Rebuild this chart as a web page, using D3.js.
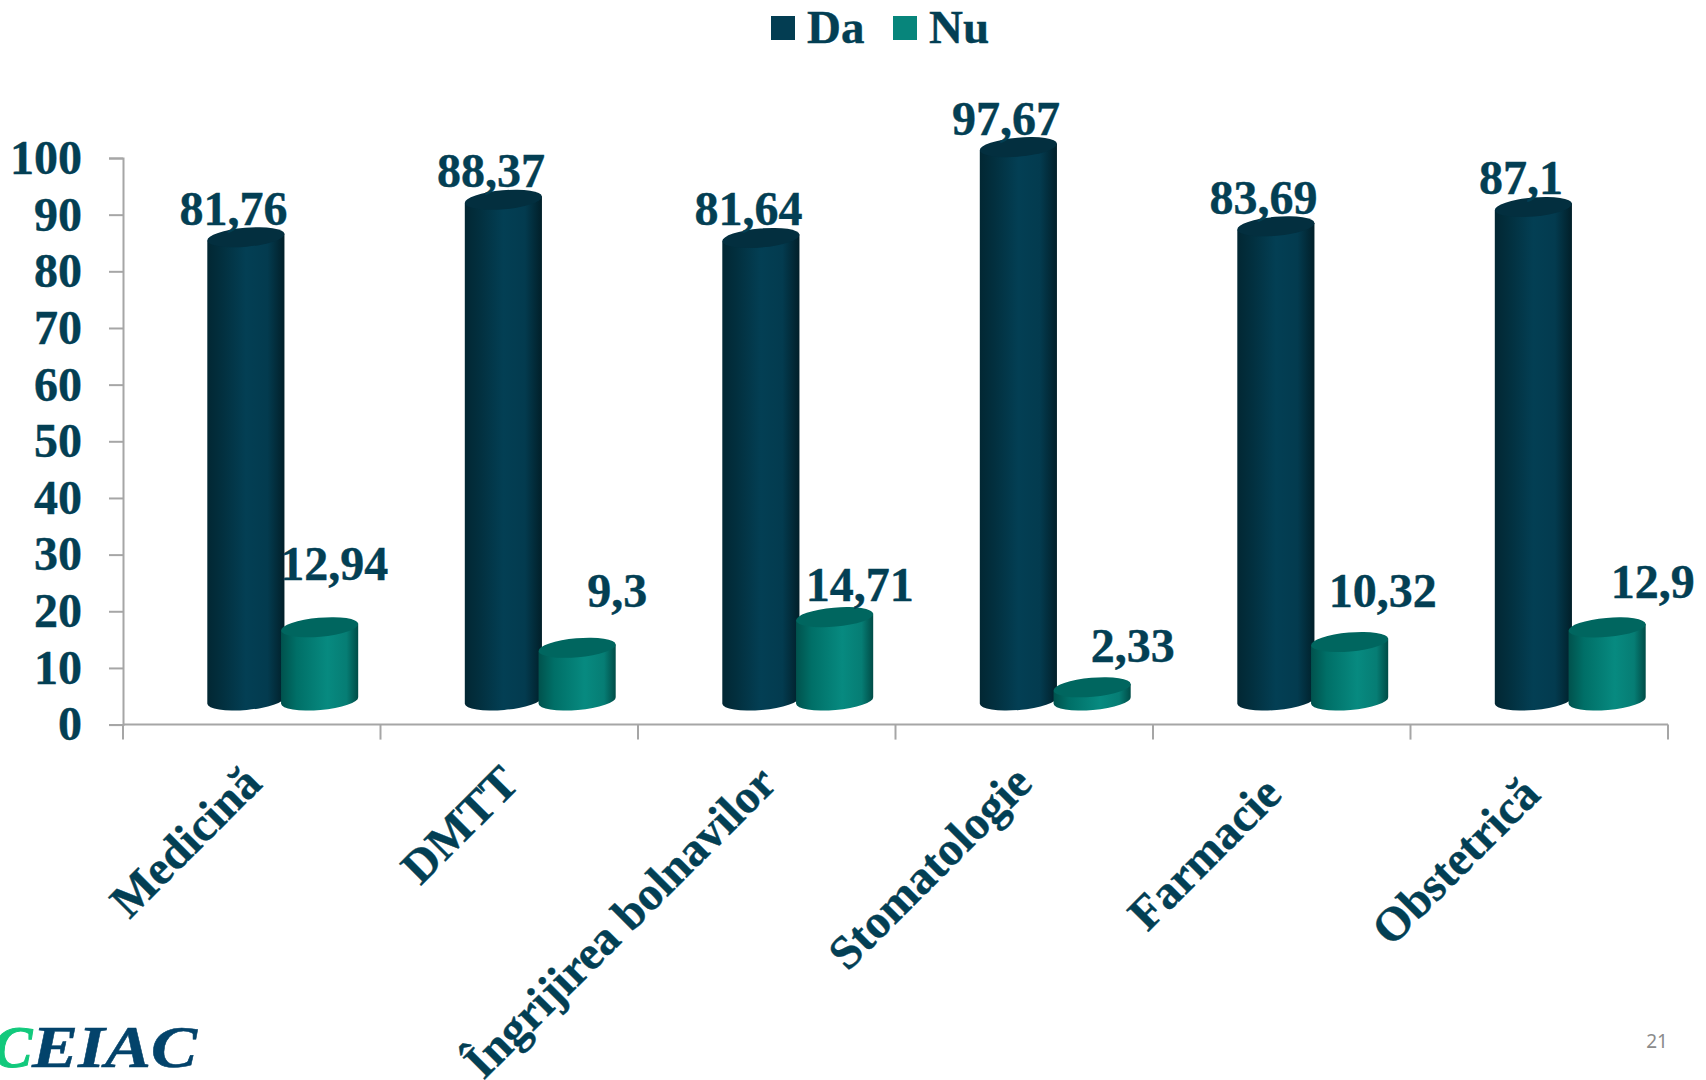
<!DOCTYPE html>
<html>
<head>
<meta charset="utf-8">
<script src="https://cdnjs.cloudflare.com/ajax/libs/d3/7.8.5/d3.min.js"></script>
<style>
  html, body { margin: 0; padding: 0; background: #fff; overflow: hidden; }
  text { font-family: "Liberation Serif", serif; font-weight: bold; fill: #033f54; }
</style>
</head>
<body>
<div id="chart"></div>
<script>
const categories = ['Medicină', 'DMTT', 'Îngrijirea bolnavilor', 'Stomatologie', 'Farmacie', 'Obstetrică'];
const series = ['Da', 'Nu'];
const daValues = [81.76, 88.37, 81.64, 97.67, 83.69, 87.1];
const nuValues = [12.94, 9.3, 14.71, 2.33, 10.32, 12.9];
const yTicks = [0, 10, 20, 30, 40, 50, 60, 70, 80, 90, 100];

// the labels were placed by hand on the slide, so they need their own nudges
const daNudge = categories.map(() => [-12.5, -12.5]);
const nuNudge = [[14.5, -47.5], [40, -41], [25, -16], [40.6, -25], [33, -35.5], [45.7, -29.5]];
const catNudge = [[0, 0], [0, 0], [0, 0], [-2, 0], [-10, 11], [-9, 11]];

const width = 1706, height = 1080;
const depth = 24.1, tilt = -5, ry = 9.5;
const fontSize = 48;

const svg = d3.select('#chart').append('svg')
  .attr('width', width)
  .attr('height', height);

const defs = svg.append('defs');
function gradient(id, stops) {
  const g = defs.append('linearGradient').attr('id', id);
  stops.forEach(s => g.append('stop').attr('offset', s[0]).attr('stop-color', s[1]));
}
gradient('grad-Da', [[0, '#022733'], [0.18, '#022f3e'], [0.5, '#033f54'], [0.78, '#033b4f'], [1, '#011f29']]);
gradient('grad-Nu', [[0, '#00524d'], [0.2, '#006f67'], [0.6, '#078a80'], [0.85, '#067d74'], [1, '#004c47']]);
const capColor = { Da: '#032f3f', Nu: '#00665f' };
const swatchColor = { Da: '#033d52', Nu: '#07857b' };

const x0 = d3.scaleBand().domain(categories).range([123, 1668]);
const x1 = d3.scaleBand().domain(series).range([86, 233.5]);
const y = d3.scaleLinear().domain([0, 100]).range([724.6, 158]);
const rx = x1.bandwidth() * 0.525;

const rows = [];
categories.forEach((c, i) => {
  rows.push({ cat: c, s: 'Da', v: daValues[i], nudge: daNudge[i] });
  rows.push({ cat: c, s: 'Nu', v: nuValues[i], nudge: nuNudge[i] });
});
const cx = d => x0(d.cat) + x1(d.s) + x1.bandwidth() / 2;

// axes
const yAxis = d3.axisLeft(y).tickValues(yTicks).tickSize(14).tickPadding(27);
const xAxis = d3.axisBottom(x0).tickSize(15).tickSizeOuter(15);

const gy = svg.append('g').attr('transform', 'translate(123,0)').call(yAxis);
const gx = svg.append('g').attr('transform', 'translate(0,724.6)').call(xAxis);

[gy, gx].forEach(g => {
  g.selectAll('path, line').attr('stroke', '#a6a6a6').attr('stroke-width', 2);
  g.selectAll('text')
    .style('font-size', fontSize + 'px')
    .style('fill', '#033f54')
    .style('stroke', '#033f54')
    .style('stroke-width', 0.4)
    .attr('font-family', null);
});

// d3 puts band ticks mid-band, the chart has them on the band edges
gx.selectAll('.tick line').attr('x1', x0.bandwidth() / 2).attr('x2', x0.bandwidth() / 2);
gx.append('line')
  .attr('x1', x0.range()[0]).attr('x2', x0.range()[0]).attr('y2', 15)
  .attr('stroke', '#a6a6a6').attr('stroke-width', 2);
gx.select('.domain').attr('d', `M${x0.range()[0]},0H${x0.range()[1]}`);

gx.selectAll('.tick text')
  .attr('x', null).attr('y', null).attr('dy', null)
  .style('text-anchor', 'end')
  .style('font-size', '47.5px')
  .attr('transform', (d, i) => `translate(${12 + catNudge[i][0]},${61 + catNudge[i][1]}) rotate(-45)`);

// cylinders
const sin = Math.sin(tilt * Math.PI / 180), cos = Math.cos(tilt * Math.PI / 180);
const bars = svg.selectAll('.bar')
  .data(rows)
  .enter()
  .append('g')
  .attr('class', 'bar');

bars.append('path')
  .attr('fill', d => `url(#grad-${d.s})`)
  .attr('d', d => {
    const top = y(d.v) - depth, bot = y(0) - depth;
    const lx = cx(d) - rx * cos, rxx = cx(d) + rx * cos;
    return `M${lx},${top - rx * sin}L${lx},${bot - rx * sin}` +
      `A${rx},${ry} ${tilt} 0 0 ${rxx},${bot + rx * sin}L${rxx},${top + rx * sin}Z`;
  });

bars.append('ellipse')
  .attr('fill', d => capColor[d.s])
  .attr('rx', rx)
  .attr('ry', ry)
  .attr('transform', d => `translate(${cx(d)},${y(d.v) - depth}) rotate(${tilt})`);

// value labels
svg.selectAll('.value')
  .data(rows)
  .enter()
  .append('text')
  .attr('class', 'value')
  .attr('x', d => cx(d) + d.nudge[0])
  .attr('y', d => y(d.v) - depth + d.nudge[1])
  .style('text-anchor', 'middle')
  .style('font-size', fontSize + 'px')
  .style('stroke', '#033f54')
  .style('stroke-width', 0.4)
  .text(d => String(d.v).replace('.', ','));

// legend
const legendX = { Da: 771, Nu: 893 };
const legend = svg.selectAll('.legend')
  .data(series)
  .enter()
  .append('g')
  .attr('class', 'legend')
  .attr('transform', d => `translate(${legendX[d]},16)`);
legend.append('rect')
  .attr('width', 24)
  .attr('height', 24)
  .attr('fill', d => swatchColor[d]);
legend.append('text')
  .attr('x', 36)
  .attr('y', 27)
  .style('font-size', '47px')
  .style('stroke', '#033f54')
  .style('stroke-width', 0.4)
  .text(d => d);

// footer: logo and page number
const logo = svg.append('g').attr('transform', 'translate(0,1067)')
  .style('font-style', 'italic')
  .style('font-size', '59px');
logo.append('text')
  .attr('x', -7)
  .style('fill', '#12c97c')
  .style('stroke', '#12c97c')
  .style('stroke-width', 1)
  .text('C');
logo.append('text')
  .attr('x', 32)
  .attr('textLength', 165)
  .attr('lengthAdjust', 'spacingAndGlyphs')
  .style('fill', '#03436b')
  .style('stroke', '#03436b')
  .style('stroke-width', 0.5)
  .text('EIAC');

svg.append('text')
  .attr('x', 1668)
  .attr('y', 1048)
  .style('text-anchor', 'end')
  .style('font-family', '"Noto Sans", sans-serif')
  .style('font-weight', 'normal')
  .style('font-size', '19px')
  .style('fill', '#8b8b8b')
  .text('21');
</script>
</body>
</html>
